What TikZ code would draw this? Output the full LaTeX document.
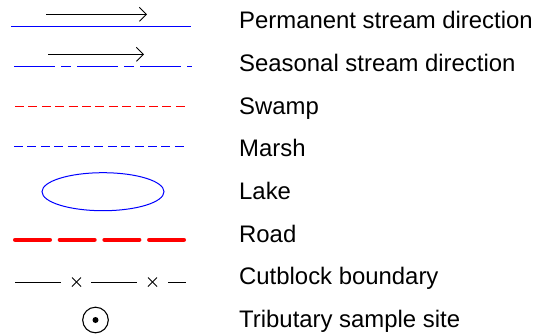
\documentclass[tikz,border=0pt]{standalone}
\usepackage{fontspec}
\setmainfont{Liberation Sans}
\usetikzlibrary{arrows.meta}
\begin{document}
\begin{tikzpicture}[x=1pt,y=-1pt,
  label/.style={anchor=base west,inner sep=0pt,font=\fontsize{23.9}{24}\selectfont},
  flowarrow/.style={black,line width=0.9pt,-{Straight Barb[length=7pt,width=14pt,line width=0.9pt]}},
  stream/.style={blue,line width=1pt},
  seasonal/.style={blue,line width=1pt,dash pattern=on 41pt off 6pt on 10pt off 6pt},
  swamp/.style={red,line width=1pt,dash pattern=on 9pt off 4.4pt},
  marsh/.style={blue,line width=1pt,dash pattern=on 9pt off 4.4pt},
  lake/.style={blue,line width=1pt},
  road/.style={red,line width=4pt,line cap=round,dash pattern=on 35pt off 9.7pt},
  cutline/.style={black,line width=0.9pt},
  xmark/.style={black,line width=0.9pt},
]
\useasboundingbox (0,0) rectangle (548,333);

% legend texts
\node[label] (t1) at (239,28.6) {Permanent stream direction};
\node[label] (t2) at (239,71.3) {Seasonal stream direction};
\node[label] (t3) at (239,114.0) {Swamp};
\node[label] (t4) at (239,156.7) {Marsh};
\node[label] (t5) at (239,199.4) {Lake};
\node[label] (t6) at (239,242.1) {Road};
\node[label] (t7) at (239,284.8) {Cutblock boundary};
\node[label] (t8) at (239,327.5) {Tributary sample site};

% permanent stream
\coordinate (a1s) at (46,14.3);  \coordinate (a1e) at (147,14.3);
\draw[flowarrow] (a1s) -- (a1e);
\coordinate (s1s) at (11,26);    \coordinate (s1e) at (191,26);
\draw[stream] (s1s) -- (s1e);

% seasonal stream
\coordinate (a2s) at (48,54.3);  \coordinate (a2e) at (144,54.3);
\draw[flowarrow] (a2s) -- (a2e);
\coordinate (s2s) at (14,66.3);  \coordinate (s2e) at (192,66.3);
\draw[seasonal] (s2s) -- (s2e);

% swamp and marsh
\coordinate (w1) at (15,106.3);  \coordinate (w2) at (185,106.3);
\draw[swamp] (w1) -- (w2);
\coordinate (m1) at (14,146.3);  \coordinate (m2) at (184,146.3);
\draw[marsh] (m1) -- (m2);

% lake
\coordinate (lk) at (103,191.7);
\draw[lake] (lk) ellipse [x radius=61, y radius=19];

% road
\coordinate (r1) at (15,239.7);  \coordinate (r2) at (184,239.7);
\draw[road] (r1) -- (r2);

% cutblock boundary
\draw[cutline] (15,282) -- (61,282);
\draw[cutline] (91,282) -- (137,282);
\draw[cutline] (168,282) -- (186,282);
\foreach \cx in {76.5,152.5}{
  \draw[xmark] (\cx-4.5,282-4.5) -- (\cx+4.5,282+4.5);
  \draw[xmark] (\cx-4.5,282+4.5) -- (\cx+4.5,282-4.5);
}

% tributary sample site
\coordinate (ts) at (95.5,320);
\draw[black,line width=1.1pt] (ts) circle [radius=12.8];
\fill[black] (ts) circle [radius=3];
\end{tikzpicture}
\end{document}
